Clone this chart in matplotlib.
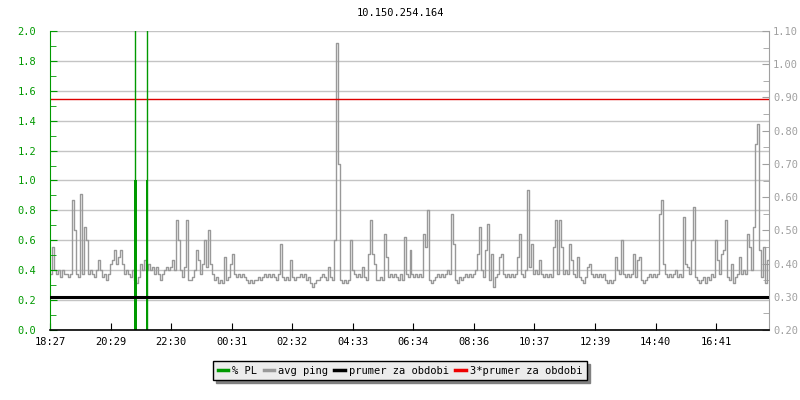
import numpy as np
import matplotlib
matplotlib.use("Agg")
import matplotlib.pyplot as plt
from matplotlib.lines import Line2D
from matplotlib.transforms import blended_transform_factory

plt.rcParams['font.family'] = ['DejaVu Sans Mono']

title = "10.150.254.164"

# sample step in minutes, start 18:27
step_min = 4
span_min = 1440

tick_minutes = [0, 122, 243, 364, 485, 606, 727, 849, 970, 1092, 1213, 1334]
tick_labels = ["18:27", "20:29", "22:30", "00:31", "02:32", "04:33",
               "06:34", "08:36", "10:37", "12:39", "14:40", "16:41"]

# avg ping (right axis), one value per 4 minutes
avg_ping = [
    # 18:27 -
    0.37, 0.45, 0.38, 0.37, 0.38, 0.36, 0.38, 0.37, 0.37, 0.36,
    0.37, 0.59, 0.50, 0.37, 0.36, 0.61, 0.37, 0.51, 0.47, 0.37,
    0.38, 0.37, 0.36, 0.38, 0.41, 0.38, 0.36, 0.37, 0.35, 0.37,
    0.40, 0.41, 0.44, 0.40, 0.42, 0.44, 0.40, 0.37, 0.38, 0.37,
    0.36, 0.38, 0.35, 0.34, 0.36, 0.40, 0.38, 0.41, 0.38, 0.40,
    0.38, 0.39, 0.37, 0.39, 0.37, 0.35, 0.37, 0.38, 0.39, 0.38,
    0.39, 0.41, 0.38, 0.53, 0.47, 0.38, 0.36, 0.39, 0.53, 0.35,
    0.35, 0.36, 0.38, 0.44, 0.41, 0.37, 0.40, 0.47, 0.39, 0.50,
    0.40, 0.37, 0.35, 0.36, 0.34, 0.35, 0.34, 0.42, 0.35, 0.36,
    # ~00:27 -
    0.40, 0.43, 0.37, 0.36, 0.37, 0.36, 0.37, 0.36, 0.35, 0.34,
    0.35, 0.34, 0.35, 0.35, 0.36, 0.35, 0.36, 0.37, 0.36, 0.37,
    0.36, 0.37, 0.36, 0.35, 0.37, 0.46, 0.36, 0.35, 0.36, 0.35,
    0.41, 0.36, 0.35, 0.36, 0.36, 0.37, 0.36, 0.37, 0.35, 0.36,
    0.34, 0.33, 0.34, 0.35, 0.35, 0.36, 0.37, 0.36, 0.35, 0.39,
    0.36, 0.35, 0.47, 1.064, 0.70, 0.35, 0.34, 0.35, 0.34, 0.35,
    0.47, 0.38, 0.37, 0.36, 0.37, 0.36, 0.39, 0.36, 0.35, 0.43,
    0.53, 0.43, 0.40, 0.35, 0.35, 0.36, 0.35, 0.49, 0.42, 0.36,
    0.37, 0.36, 0.37, 0.36, 0.35, 0.37, 0.35, 0.48, 0.37, 0.36,
    # ~06:27 -
    0.44, 0.37, 0.36, 0.37, 0.36, 0.37, 0.36, 0.49, 0.45, 0.56,
    0.35, 0.34, 0.35, 0.36, 0.37, 0.36, 0.37, 0.36, 0.37, 0.38,
    0.37, 0.55, 0.46, 0.35, 0.34, 0.36, 0.35, 0.36, 0.37, 0.36,
    0.37, 0.36, 0.37, 0.38, 0.43, 0.51, 0.38, 0.36, 0.44, 0.52,
    0.35, 0.43, 0.33, 0.36, 0.37, 0.42, 0.43, 0.37, 0.36, 0.37,
    0.36, 0.37, 0.36, 0.37, 0.42, 0.49, 0.37, 0.36, 0.38, 0.62,
    0.39, 0.46, 0.37, 0.38, 0.37, 0.41, 0.37, 0.36, 0.37, 0.36,
    0.37, 0.36, 0.45, 0.53, 0.37, 0.53, 0.45, 0.37, 0.38, 0.37,
    0.46, 0.41, 0.37, 0.36, 0.42, 0.36, 0.35, 0.34, 0.36, 0.39,
    # ~12:27 -
    0.40, 0.37, 0.36, 0.37, 0.36, 0.37, 0.36, 0.37, 0.35, 0.34,
    0.35, 0.34, 0.35, 0.42, 0.38, 0.37, 0.47, 0.37, 0.36, 0.37,
    0.36, 0.37, 0.43, 0.36, 0.41, 0.42, 0.35, 0.34, 0.35, 0.36,
    0.37, 0.36, 0.37, 0.36, 0.37, 0.55, 0.59, 0.40, 0.37, 0.36,
    0.37, 0.36, 0.37, 0.38, 0.36, 0.37, 0.36, 0.54, 0.40, 0.39,
    0.37, 0.47, 0.57, 0.36, 0.35, 0.34, 0.35, 0.36, 0.34, 0.36,
    0.35, 0.37, 0.36, 0.47, 0.41, 0.37, 0.43, 0.44, 0.53, 0.36,
    0.35, 0.40, 0.34, 0.36, 0.37, 0.42, 0.37, 0.38, 0.37, 0.49,
    0.45, 0.38, 0.51, 0.76, 0.82, 0.44, 0.36, 0.45, 0.34, 0.41,
]

# packet loss events (left axis, %)
pl_minutes = [171, 194]
pl_values = [1.0, 1.0]
pl_peaks = [100.0, 100.0]
pl_widths = [6, 4]

period_avg = 0.298
period_avg3 = 0.894

green = "#009900"
gray_line = "#999999"
grid_col = "#c4c4c4"
right_col = "#a0a0a0"

fig = plt.figure(figsize=(8, 4), dpi=100)
ax1 = fig.add_axes([50 / 800, 70 / 400, 719 / 800, 299 / 400])
ax2 = ax1.twinx()
ax1.set_zorder(ax2.get_zorder() + 1)
ax1.patch.set_visible(False)
ax2.patch.set_facecolor("white")

ax1.set_xlim(0, span_min)
ax1.set_ylim(0, 2.0)
ax2.set_ylim(0.2, 1.1)

# grid (left-axis steps), drawn beneath the ping line
left_major = np.arange(0, 2.01, 0.2)
gtrans = blended_transform_factory(ax2.transAxes, ax1.transData)
for v in left_major:
    ax2.plot([0, 1], [v, v], transform=gtrans, color=grid_col, lw=1, zorder=0)

t = np.arange(len(avg_ping)) * step_min + step_min / 2
ax2.plot(t, avg_ping, drawstyle="steps-mid", color=gray_line, lw=1, zorder=2)

# red & black period lines on top layer, in ping units
htrans = blended_transform_factory(ax1.transAxes, ax2.transData)
ax1.plot([0, 1], [period_avg3, period_avg3], transform=htrans, color="#dd0000", lw=1, zorder=1)
ax1.bar(pl_minutes, pl_values, width=pl_widths, color=green, zorder=2, linewidth=0)
ax1.vlines(pl_minutes, 0, pl_peaks, color=green, lw=1, zorder=2)
ax1.plot([0, 1], [period_avg, period_avg], transform=htrans, color="black", lw=2.2, zorder=3)

# axes styling
for s in ["top", "right"]:
    ax1.spines[s].set_visible(False)
ax1.spines["left"].set_color(green)
ax1.spines["bottom"].set_color("black")
ax1.spines["bottom"].set_linewidth(1.2)
for s in ["top", "left", "bottom"]:
    ax2.spines[s].set_visible(False)
ax2.spines["right"].set_color(right_col)

ax1.set_xticks(tick_minutes)
ax1.set_xticklabels(tick_labels)
ax1.tick_params(axis="x", direction="in", length=5, color="black", labelsize=7.5, pad=5)
ax1.set_yticks(left_major)
ax1.set_yticklabels([f"{v:.1f}" for v in left_major])
ax1.set_yticks(np.arange(0.1, 2.0, 0.2), minor=True)
ax1.tick_params(axis="y", which="major", direction="in", length=5, color=green,
                labelcolor=green, labelsize=7.5, pad=10)
ax1.tick_params(axis="y", which="minor", direction="in", length=4, color=green)

right_major = np.arange(0.2, 1.101, 0.1)
ax2.set_yticks(right_major)
ax2.set_yticklabels([f"{v:.2f}" for v in right_major])
ax2.set_yticks(np.arange(0.25, 1.1, 0.1), minor=True)
ax2.tick_params(axis="y", which="major", direction="in", length=5, color=right_col,
                labelcolor=right_col, labelsize=7.5, pad=3)
ax2.tick_params(axis="y", which="minor", direction="in", length=4, color=right_col)

fig.text(0.5, 1 - 13 / 400, title, ha="center", va="center", fontsize=7.5)

handles = [Line2D([], [], color=green, lw=2.5),
           Line2D([], [], color=gray_line, lw=2.5),
           Line2D([], [], color="black", lw=2.5),
           Line2D([], [], color="#ee0000", lw=2.5)]
labels = ["% PL", "avg ping", "prumer za obdobi", "3*prumer za obdobi"]
leg = fig.legend(handles, labels, loc="center", bbox_to_anchor=(0.5, 1 - 370.5 / 400),
                 ncol=4, frameon=True, fancybox=False,
                 shadow={"color": "#808080", "alpha": 1.0},
                 edgecolor="black", facecolor="#ececec", framealpha=1,
                 handlelength=1.0, handletextpad=0.4, columnspacing=0.6,
                 borderpad=0.45, fontsize=7.5)
leg.get_frame().set_linewidth(1.0)

fig.savefig("out.png", dpi=100)
